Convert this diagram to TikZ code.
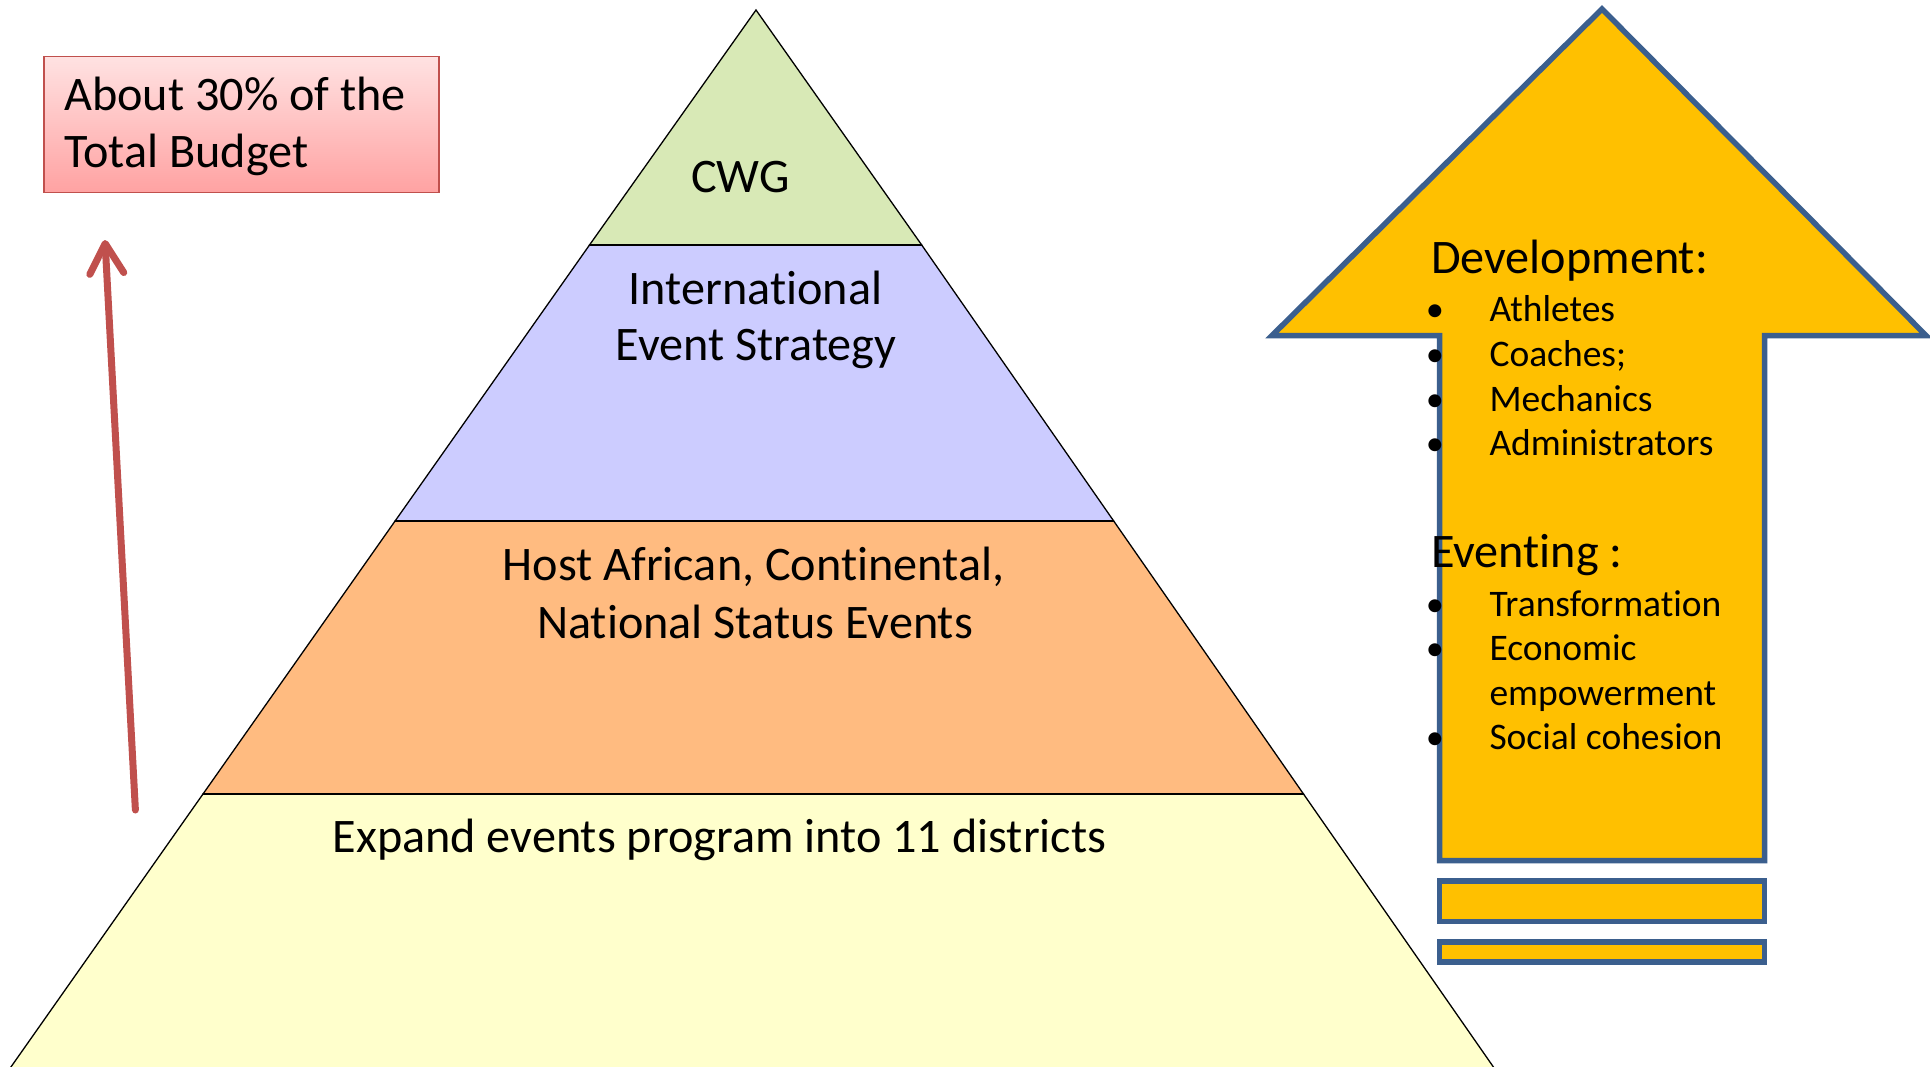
\documentclass[tikz,border=0pt]{standalone}
\usepackage{fontspec}
\setmainfont{Carlito}[Ligatures=NoCommon,RawFeature={-liga;-clig;-calt;-dlig}]
\usetikzlibrary{arrows.meta}
\definecolor{cwgfill}{HTML}{D8E9B6}
\definecolor{lavfill}{HTML}{CCCCFF}
\definecolor{orfill}{HTML}{FFBB80}
\definecolor{yelfill}{HTML}{FFFFCC}
\definecolor{goldfill}{HTML}{FFC000}
\definecolor{steelline}{HTML}{3B5F8E}
\definecolor{redline}{HTML}{C0504D}
\definecolor{pinktop}{HTML}{FFE2E2}
\definecolor{pinkbot}{HTML}{FFA2A2}
\tikzset{
  layer/.style={draw=black, line width=1.3pt, line join=miter},
  divider/.style={draw=black, line width=2.2pt},
  bigtxt/.style={font=\fontsize{48.2}{58}\selectfont, inner sep=0pt, anchor=base},
  bigleft/.style={bigtxt, anchor=base west},
  itemtxt/.style={font=\fontsize{37.5}{45}\selectfont, inner sep=0pt, anchor=base west},
  bulletmark/.style={font=\fontsize{36.5}{44}\selectfont, inner sep=0pt, anchor=base},
  goldshape/.style={fill=goldfill, draw=steelline, line width=5.5pt, line join=miter},
  budgetbox/.style={draw=redline, line width=1.6pt, top color=pinktop, bottom color=pinkbot, inner sep=0pt, anchor=north west},
  uparrow/.style={draw=redline, line width=7pt, line cap=round, -{Straight Barb[length=30pt,width=34pt,round]}}
}
\begin{document}
\begin{tikzpicture}[x=1pt,y=-1pt]
\useasboundingbox (0,0) rectangle (1930,1066);
\fill[white] (0,0) rectangle (1930,1066);

% pyramid layers
\path[layer, fill=yelfill] (203,794) -- (1303.5,794) -- (1495.5,1070) -- (8.8,1070) -- cycle;
\path[layer, fill=orfill] (395.1,521) -- (1113.7,521) -- (1303.5,794) -- (203,794) -- cycle;
\path[layer, fill=lavfill] (589.5,245) -- (921.7,245) -- (1113.7,521) -- (395.1,521) -- cycle;
\path[layer, fill=cwgfill] (756,10) -- (921.7,245) -- (589.5,245) -- cycle;
\draw[divider] (589.5,245) -- (921.7,245);
\draw[divider] (395.1,521) -- (1113.7,521);
\draw[divider] (203,794) -- (1303.5,794);

% pyramid texts
\node[bigtxt] (cwg) at (740.5,192.3) {CWG};
\node[bigtxt] (intl1) at (755.5,304) {International};
\node[bigtxt] (intl2) at (756,360) {Event Strategy};
\node[bigtxt] (host1) at (753.5,580.6) {Host African, Continental,};
\node[bigtxt] (host2) at (755,638.4) {National Status Events};
\node[bigtxt] (expand) at (719.5,852.6) {Expand events program into 11 districts};

% budget box and arrow
\node[budgetbox, minimum width=394.7pt, minimum height=136pt] (budget) at (43.3,55.7) {};
\node[bigleft] (budget1) at (64,110) {About 30\% of the};
\node[bigleft] (budget2) at (64,167) {Total Budget};
\coordinate (redtail) at (135.4,810);
\coordinate (redtip) at (105,240);
\draw[uparrow] (redtail) -- (redtip);

% gold arrow
\path[goldshape] (1602,9) -- (1926,335.5) -- (1764.6,335.5) -- (1764.6,860.7) -- (1439.5,860.7) -- (1439.5,335.5) -- (1272,335.5) -- cycle;
\path[goldshape] (1439.5,881.2) rectangle (1764.6,921.7);
\path[goldshape] (1439.5,942) rectangle (1764.6,962);

% arrow texts
\node[bigleft] (dev) at (1430.8,273.7) {Development:};
\node[bulletmark] (b1) at (1435,321) {•};
\node[itemtxt] (i1) at (1489.3,321) {Athletes};
\node[bulletmark] (b2) at (1435,366) {•};
\node[itemtxt] (i2) at (1489.3,366) {Coaches;};
\node[bulletmark] (b3) at (1435,411) {•};
\node[itemtxt] (i3) at (1489.3,411) {Mechanics};
\node[bulletmark] (b4) at (1435,455.5) {•};
\node[itemtxt] (i4) at (1489.3,455.5) {Administrators};

\node[bigleft] (evt) at (1430.8,567) {Eventing :};
\node[bulletmark] (b5) at (1435,616) {•};
\node[itemtxt] (i5) at (1489.3,616) {Transformation};
\node[bulletmark] (b6) at (1435,660.5) {•};
\node[itemtxt] (i6) at (1489.3,660.5) {Economic};
\node[itemtxt] (i7) at (1489.3,705) {empowerment};
\node[bulletmark] (b8) at (1435,749) {•};
\node[itemtxt] (i8) at (1489.3,749) {Social cohesion};
\end{tikzpicture}
\end{document}
